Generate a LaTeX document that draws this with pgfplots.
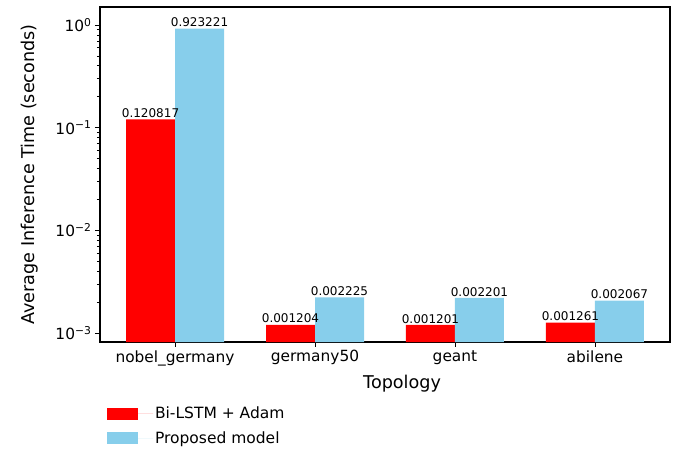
\documentclass[border=0pt]{standalone}
\usepackage{pgfplots}
\pgfplotsset{compat=1.18}
\usepackage{fontspec}
\setmainfont{DejaVu Sans}
\definecolor{skyblue}{RGB}{135,206,235}
\begin{document}
\begin{tikzpicture}
\begin{axis}[
  scale only axis,
  width=570bp, height=335bp,
  ybar, bar width=0.35,
  ymode=log,
  log origin=infty,
  xmin=-0.536, xmax=3.536,
  ymin=8.18e-4, ymax=1.5,
  xtick={0,1,2,3},
  xticklabels={nobel\_germany,germany50,geant,abilene},
  ytick={0.001,0.01,0.1,1},
  yticklabels={10\textsuperscript{−3},10\textsuperscript{−2},10\textsuperscript{−1},10\textsuperscript{0}},
  tick label style={font=\fontsize{15.4bp}{18bp}\selectfont},
  tick align=outside,
  tick pos=left,
  major tick length=5bp,
  minor tick length=3bp,
  every tick/.style={black, line width=0.9bp},
  axis line style={line width=1.2bp},
  xlabel={Topology},
  ylabel={Average Inference Time (seconds)},
  label style={font=\fontsize{17.6bp}{20bp}\selectfont},
  xlabel style={at={(axis description cs:0.53,-0.125)}, anchor=center},
  ylabel style={at={(axis description cs:-0.123,0.5)}, anchor=center},
  nodes near coords,
  point meta=explicit symbolic,
  every node near coord/.append style={font=\fontsize{12bp}{13bp}\selectfont, anchor=south, inner sep=1.5bp, black},
  legend style={at={(axis description cs:0.012,-0.188)}, anchor=north west, draw=none, fill=none,
    font=\fontsize{15.5bp}{18bp}\selectfont, row sep=7bp, inner sep=0pt},
  legend cell align=left,
]
\addplot[bar shift=-0.175, fill=red, draw=none,
  legend image code/.code={\fill[red] (0bp,-6.3bp) rectangle (31bp,6.3bp); \path (0bp,0bp) -- (46bp,0bp);}]
  coordinates {(0,0.120817)[0.120817] (1,0.001204)[0.001204] (2,0.001201)[0.001201] (3,0.001261)[0.001261]};
\addlegendentry{Bi-LSTM + Adam}
\addplot[bar shift=0.175, fill=skyblue, draw=none,
  legend image code/.code={\fill[skyblue] (0bp,-6.3bp) rectangle (31bp,6.3bp); \path (0bp,0bp) -- (46bp,0bp);}]
  coordinates {(0,0.923221)[0.923221] (1,0.002225)[0.002225] (2,0.002201)[0.002201] (3,0.002067)[0.002067]};
\addlegendentry{Proposed model}
\end{axis}
\pgfresetboundingbox
\path[use as bounding box] (-100bp,-108bp) rectangle (580bp,342bp);
\end{tikzpicture}
\end{document}
